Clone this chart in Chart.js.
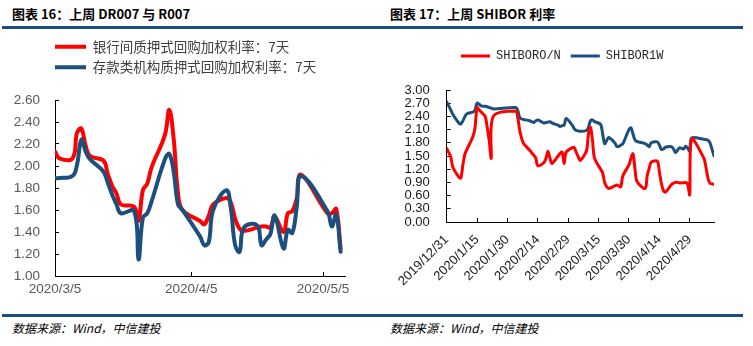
<!DOCTYPE html>
<html>
<head>
<meta charset="utf-8">
<script src="https://cdn.jsdelivr.net/npm/chart.js@4.4.1/dist/chart.umd.min.js"></script>
<style>
html, body { margin: 0; padding: 0; background: #fff; }
body { width: 753px; height: 346px; position: relative; overflow: hidden; font-family: "Noto Sans CJK SC", sans-serif; }
.title { position: absolute; top: 5px; font-size: 13px; font-weight: bold; color: #000; line-height: 18px; white-space: nowrap; }
.rule { position: absolute; left: 2px; width: 741px; height: 3px; background: #1b4f7d; }
.src { position: absolute; top: 320px; font-size: 12px; font-style: italic; color: #000; line-height: 16px; white-space: nowrap; }
.box { position: absolute; top: 30px; height: 275px; }
</style>
</head>
<body>
<div class="title" style="left:12px">图表 16：上周 DR007 与 R007</div>
<div class="title" style="left:390px">图表 17：上周 SHIBOR 利率</div>
<div class="rule" style="top:26px"></div>
<div class="box" style="left:0;width:376px"><canvas id="chartRepo"></canvas></div>
<div class="box" style="left:376px;width:377px"><canvas id="chartShibor"></canvas></div>
<div class="rule" style="top:314px"></div>
<div class="src" style="left:12px">数据来源：Wind，中信建投</div>
<div class="src" style="left:390px">数据来源：Wind，中信建投</div>

<script>
// 图表16：R007（银行间）与 DR007（存款类机构）
var repoDates = [
    "2020/3/5", "2020/3/6", "2020/3/9", "2020/3/10", "2020/3/11", "2020/3/12", "2020/3/13",
    "2020/3/16", "2020/3/17", "2020/3/18", "2020/3/19", "2020/3/20", "2020/3/23", "2020/3/24",
    "2020/3/25", "2020/3/26", "2020/3/27", "2020/3/30", "2020/3/31", "2020/4/1", "2020/4/2",
    "2020/4/3", "2020/4/7", "2020/4/8", "2020/4/9", "2020/4/10", "2020/4/13", "2020/4/14",
    "2020/4/15", "2020/4/16", "2020/4/17", "2020/4/20", "2020/4/21", "2020/4/22", "2020/4/23",
    "2020/4/24", "2020/4/26", "2020/4/27", "2020/4/28", "2020/4/29", "2020/4/30", "2020/5/6",
    "2020/5/7", "2020/5/8", "2020/5/9",
];
var r007 = [
    2.13, 2.07, 2.07, 2.30, 2.34, 2.18, 2.09,
    2.05, 1.93, 1.82, 1.75, 1.65, 1.63, 1.50,
    1.78, 1.84, 1.99, 2.28, 2.51, 2.25, 1.75,
    1.60, 1.50, 1.47, 1.55, 1.65, 1.71, 1.67,
    1.52, 1.43, 1.41, 1.44, 1.45, 1.45, 1.44,
    1.54, 1.40, 1.57, 1.59, 1.70, 1.92, 1.57,
    1.57, 1.61, 1.25,
];
var dr007 = [
    1.89, 1.89, 1.91, 2.01, 2.24, 2.13, 2.06,
    1.95, 1.85, 1.74, 1.65, 1.57, 1.59, 1.15,
    1.53, 1.57, 1.68, 2.06, 2.11, 1.95, 1.65,
    1.60, 1.36, 1.28, 1.31, 1.60, 1.78, 1.62,
    1.28, 1.22, 1.44, 1.46, 1.28, 1.33, 1.38,
    1.55, 1.25, 1.42, 1.39, 1.62, 1.91, 1.59,
    1.45, 1.56, 1.22,
];
var repoXTicks = ["2020/3/5", "2020/4/5", "2020/5/5"];
var repoYTicks = [1.0, 1.2, 1.4, 1.6, 1.8, 2.0, 2.2, 2.4, 2.6];

// 图表17：SHIBOR 隔夜与 1 周
var shiborDates = [
    "2019/12/31", "2020/1/2", "2020/1/3", "2020/1/6", "2020/1/7", "2020/1/8", "2020/1/9",
    "2020/1/10", "2020/1/13", "2020/1/14", "2020/1/15", "2020/1/16", "2020/1/17", "2020/1/19",
    "2020/1/20", "2020/1/21", "2020/1/22", "2020/1/23", "2020/2/3", "2020/2/4", "2020/2/5",
    "2020/2/6", "2020/2/7", "2020/2/10", "2020/2/11", "2020/2/12", "2020/2/13", "2020/2/14",
    "2020/2/17", "2020/2/18", "2020/2/19", "2020/2/20", "2020/2/21", "2020/2/24", "2020/2/25",
    "2020/2/26", "2020/2/27", "2020/2/28", "2020/3/2", "2020/3/3", "2020/3/4", "2020/3/5",
    "2020/3/6", "2020/3/9", "2020/3/10", "2020/3/11", "2020/3/12", "2020/3/13", "2020/3/16",
    "2020/3/17", "2020/3/18", "2020/3/19", "2020/3/20", "2020/3/23", "2020/3/24", "2020/3/25",
    "2020/3/26", "2020/3/27", "2020/3/30", "2020/3/31", "2020/4/1", "2020/4/2", "2020/4/3",
    "2020/4/7", "2020/4/8", "2020/4/9", "2020/4/10", "2020/4/13", "2020/4/14", "2020/4/15",
    "2020/4/16", "2020/4/17", "2020/4/20", "2020/4/21", "2020/4/22", "2020/4/23", "2020/4/24",
    "2020/4/26", "2020/4/27", "2020/4/28", "2020/4/29", "2020/4/30", "2020/5/6", "2020/5/7",
    "2020/5/8", "2020/5/9", "2020/5/11",
];
var shiborON = [
    1.67, 1.48, 1.25, 1.02, 1.00, 1.30, 1.55,
    1.65, 1.95, 2.15, 2.60, 2.55, 2.50, 2.40,
    2.15, 1.85, 1.45, 2.40, 2.52, 2.40, 2.10,
    1.90, 1.78, 1.63, 1.57, 1.52, 1.45, 1.28,
    1.35, 1.44, 1.61, 1.45, 1.33, 1.50, 1.56,
    1.59, 1.33, 1.59, 1.69, 1.69, 1.58, 1.48,
    1.40, 1.62, 2.00, 2.15, 1.85, 1.45, 1.20,
    1.12, 0.90, 0.80, 0.76, 0.82, 0.84, 0.82,
    0.80, 1.05, 1.30, 1.45, 1.55, 1.20, 0.92,
    0.76, 1.05, 1.22, 1.36, 1.38, 1.15, 0.88,
    0.72, 0.68, 0.85, 0.88, 0.90, 0.90, 0.89,
    0.89, 0.90, 0.86, 0.62, 1.88, 1.45, 1.25,
    1.00, 0.88, 0.86,
];
var shibor1W = [
    2.73, 2.55, 2.45, 2.25, 2.23, 2.30, 2.40,
    2.46, 2.50, 2.55, 2.70, 2.68, 2.64, 2.63,
    2.62, 2.60, 2.59, 2.57, 2.60, 2.55, 2.38,
    2.34, 2.33, 2.30, 2.28, 2.26, 2.30, 2.32,
    2.25, 2.26, 2.27, 2.28, 2.25, 2.20, 2.17,
    2.19, 2.20, 2.35, 2.20, 2.12, 2.08, 2.07,
    2.06, 2.08, 2.15, 2.30, 2.32, 2.28, 2.22,
    2.00, 1.78, 1.85, 1.92, 1.80, 1.72, 1.72,
    1.75, 1.78, 2.10, 2.14, 2.00, 1.86, 1.83,
    1.78, 1.75, 1.71, 1.80, 1.82, 1.75, 1.65,
    1.66, 1.70, 1.71, 1.66, 1.58, 1.63, 1.69,
    1.66, 1.72, 1.68, 1.61, 1.91, 1.88, 1.87,
    1.86, 1.80, 1.50,
];
var shiborXTicks = [
    "2019/12/31", "2020/1/15", "2020/1/30", "2020/2/14", "2020/2/29",
    "2020/3/15", "2020/3/30", "2020/4/14", "2020/4/29",
];
var shiborYTicks = [0, 0.3, 0.6, 0.9, 1.2, 1.5, 1.8, 2.1, 2.4, 2.7, 3.0];

var RED = "#ff0000";
var BLUE = "#1b4f7d";

function toDay(s) {
    var p = s.split("/");
    return Date.UTC(+p[0], p[1] - 1, +p[2]) / 86400000;
}

function points(dates, values) {
    return dates.map(function (d, i) {
        return { x: toDay(d), y: values[i] };
    });
}

// push the plot down below the legend and slide the legend sideways (dx > 0 = right)
function legendSpace(extra, dx) {
    return {
        id: "legendSpace",
        beforeInit: function (chart) {
            var fit = chart.legend.fit;
            chart.legend.fit = function () {
                fit.call(this);
                this.height += extra;
            };
        },
        afterLayout: function (chart) {
            chart.legend.left += dx;
            chart.legend.right += dx;
        },
    };
}

var ctxRepo = document.getElementById("chartRepo").getContext("2d");
var chartRepo = new Chart(ctxRepo, {
    type: "line",
    data: {
        datasets: [{
            label: "银行间质押式回购加权利率：7天",
            data: points(repoDates, r007),
            borderColor: RED,
            backgroundColor: RED,
            borderWidth: 4,
            order: 2,
        }, {
            label: "存款类机构质押式回购加权利率：7天",
            data: points(repoDates, dr007),
            borderColor: BLUE,
            backgroundColor: BLUE,
            borderWidth: 4,
            order: 1,
        }],
    },
    options: {
        responsive: true,
        maintainAspectRatio: false,
        animation: false,
        layout: { padding: { left: 0, right: 31, top: 3, bottom: 0 } },
        elements: {
            point: { radius: 0 },
            line: { tension: 0.4, borderCapStyle: "round", borderJoinStyle: "round" },
        },
        plugins: {
            tooltip: { enabled: false },
            legend: {
                fullSize: false,
                align: "start",
                labels: {
                    usePointStyle: true,
                    pointStyle: "line",
                    pointStyleWidth: 31,
                    padding: 7,
                    color: "#404040",
                    font: { family: "'Noto Sans CJK SC'", size: 13.5 },
                    sort: function (a, b) { return a.datasetIndex - b.datasetIndex; },
                },
            },
        },
        scales: {
            x: {
                type: "linear",
                min: toDay("2020/3/5"),
                max: toDay("2020/5/10"),
                afterBuildTicks: function (s) {
                    s.ticks = repoXTicks.map(function (t) { return { value: toDay(t) }; });
                },
                afterFit: function (s) { s.height = 29; },
                ticks: {
                    autoSkip: false,
                    maxRotation: 0,
                    padding: 9,
                    color: "#595959",
                    font: { family: "'Liberation Sans', Arial", size: 13.5 },
                    callback: function (v, i) { return repoXTicks[i]; },
                },
                grid: { drawOnChartArea: false, tickLength: -4, color: "#000" },
                border: { color: "#000", width: 1 },
            },
            y: {
                min: 1.0,
                max: 2.6,
                afterBuildTicks: function (s) {
                    s.ticks = repoYTicks.map(function (v) { return { value: v }; });
                },
                afterFit: function (s) { s.width = 55; },
                ticks: {
                    autoSkip: false,
                    padding: 19,
                    color: "#595959",
                    font: { family: "'Liberation Sans', Arial", size: 13.5 },
                    callback: function (v) { return v.toFixed(2); },
                },
                grid: { drawOnChartArea: false, tickLength: -4, color: "#000" },
                border: { color: "#000", width: 1 },
            },
        },
    },
    plugins: [legendSpace(16, -7)],
});

var ctxShibor = document.getElementById("chartShibor").getContext("2d");
var chartShibor = new Chart(ctxShibor, {
    type: "line",
    data: {
        datasets: [{
            label: "SHIBORO/N",
            data: points(shiborDates, shiborON),
            borderColor: RED,
            backgroundColor: RED,
            borderWidth: 3,
        }, {
            label: "SHIBOR1W",
            data: points(shiborDates, shibor1W),
            borderColor: BLUE,
            backgroundColor: BLUE,
            borderWidth: 3,
        }],
    },
    options: {
        responsive: true,
        maintainAspectRatio: false,
        animation: false,
        layout: { padding: { left: 0, right: 39, top: 10, bottom: 0 } },
        elements: {
            point: { radius: 0 },
            line: { tension: 0.3, borderCapStyle: "round", borderJoinStyle: "round" },
        },
        plugins: {
            tooltip: { enabled: false },
            legend: {
                align: "start",
                labels: {
                    usePointStyle: true,
                    pointStyle: "line",
                    pointStyleWidth: 29,
                    padding: 10,
                    color: "#262626",
                    font: { family: "'Liberation Mono', monospace", size: 12 },
                },
            },
        },
        scales: {
            x: {
                type: "linear",
                min: toDay("2019/12/31"),
                max: toDay("2020/5/11"),
                afterBuildTicks: function (s) {
                    s.ticks = shiborXTicks.map(function (t) { return { value: toDay(t) }; });
                },
                afterFit: function (s) { s.height = 83; },
                ticks: {
                    autoSkip: false,
                    minRotation: 45,
                    maxRotation: 45,
                    padding: 14,
                    color: "#1a1a1a",
                    font: { family: "'Liberation Sans', Arial", size: 13 },
                    callback: function (v, i) { return shiborXTicks[i]; },
                },
                grid: { drawOnChartArea: false, tickLength: -4, color: "#000" },
                border: { color: "#000", width: 1 },
            },
            y: {
                min: 0,
                max: 3,
                afterBuildTicks: function (s) {
                    s.ticks = shiborYTicks.map(function (v) { return { value: v }; });
                },
                afterFit: function (s) { s.width = 70.7; },
                ticks: {
                    autoSkip: false,
                    padding: 21,
                    color: "#1a1a1a",
                    font: { family: "'Liberation Sans', Arial", size: 13, lineHeight: 1 },
                    callback: function (v) { return v.toFixed(2); },
                },
                grid: { drawOnChartArea: false, tickLength: -4, color: "#000" },
                border: { color: "#000", width: 1 },
            },
        },
    },
    plugins: [legendSpace(18, 75)],
});
</script>
</body>
</html>
